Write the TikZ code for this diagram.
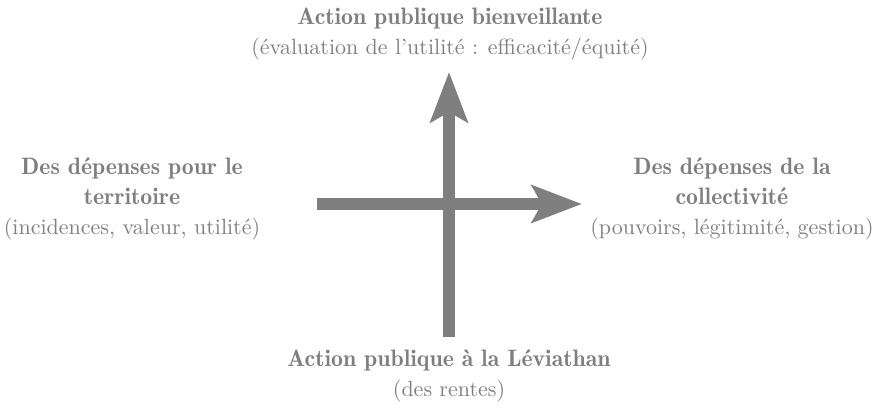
\documentclass[tikz,border=0pt]{standalone}
\usepackage{xcolor}
\usepackage{fontspec}
\setmainfont{lmroman10-regular}[Extension=.otf, BoldFont=lmromandemi10-regular, BoldFeatures={Scale=1.08}]
\usepackage{tikz}
\usetikzlibrary{arrows.meta}
\definecolor{axe_gris}{HTML}{7F7F7F}
\tikzstyle{pole} = [anchor=base, align=center, inner sep=0pt, text=axe_gris, font=\fontsize{22}{30}\selectfont]
\tikzstyle{axe} = [draw=axe_gris, line width=12.5pt, -{Stealth[length=50pt, width=37pt, inset=10pt]}]
\begin{document}
\begin{tikzpicture}[x=1pt,y=1pt]
\useasboundingbox (0,0) rectangle (884,411);
\coordinate (bas) at (449,74);
\coordinate (haut) at (449,339);
\coordinate (gauche) at (317,207);
\coordinate (droite) at (582,207);
\draw [axe] (bas) -- (haut);
\draw [axe] (gauche) -- (droite);
\node [pole, name=bienveillante] at (450,356) {\textbf{Action publique bienveillante}\\(évaluation de l’utilité : efficacité/équité)};
\node [pole, name=territoire] at (132,176) {\textbf{Des dépenses pour le}\\\textbf{territoire}\\(incidences, valeur, utilité)};
\node [pole, name=collectivite] at (732,176) {\textbf{Des dépenses de la}\\\textbf{collectivité}\\(pouvoirs, légitimité, gestion)};
\node [pole, name=leviathan] at (449,14) {\textbf{Action publique à la Léviathan}\\(des rentes)};
\end{tikzpicture}
\end{document}
